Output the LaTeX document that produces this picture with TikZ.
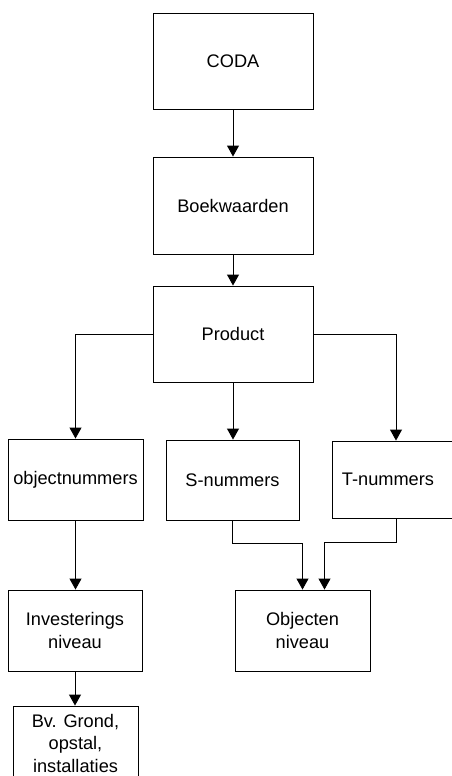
\documentclass[tikz,border=0pt]{standalone}
\usepackage{fontspec}
\setmainfont{Liberation Sans}
\usetikzlibrary{arrows.meta}
\begin{document}
\begin{tikzpicture}[x=1pt,y=-1pt,
  box/.style={draw, line width=0.9pt, rectangle, inner sep=0pt, align=center,
    font=\fontsize{18.2}{22.5}\selectfont},
  link/.style={line width=0.9pt, -{Triangle[length=11pt,width=12pt]}}]
  \useasboundingbox (0,0) rectangle (452,776);
  \clip (0,0) rectangle (452,776);

  % main chain
  \node[box, minimum width=160pt, minimum height=96pt] (coda) at (233,61) {CODA};
  \node[box, minimum width=160pt, minimum height=97pt] (boek) at (233,205.5) {Boekwaarden};
  \node[box, minimum width=160pt, minimum height=96pt] (prod) at (233,334) {Product};

  % number groups
  \node[box, minimum width=135pt, minimum height=81pt] (objnum) at (75.5,479.5) {objectnummers};
  \node[box, minimum width=133pt, minimum height=80pt] (snum) at (232.5,480) {S-nummers};
  \node[box, minimum width=128pt, minimum height=77pt] (tnum) at (396,479.5) {\hspace*{-16pt}T-nummers};

  % levels
  \node[box, minimum width=134pt, minimum height=81pt] (inv) at (75,630.5) {Investerings\\niveau};
  \node[box, minimum width=135pt, minimum height=81pt] (objn) at (302.5,630.5) {Objecten\\niveau};
  \node[box, minimum width=125pt, minimum height=74pt] (bv) at (75.5,743) {Bv. Grond,\\opstal,\\installaties};

  \coordinate (objnR) at ([xshift=22pt]objn.north);

  % connectors
  \draw[link] (coda.south) -- (boek.north);
  \draw[link] (boek.south) -- (prod.north);
  \draw[link] (prod.west) -| (objnum.north);
  \draw[link] (prod.south) -- (prod.south |- snum.north);
  \draw[link] (prod.east) -| (tnum.north);
  \draw[link] (objnum.south) -- (objnum.south |- inv.north);
  \draw[link] (inv.south) -- (inv.south |- bv.north);
  \draw[link] (snum.south) -- ++(0,23) -| (objn.north);
  \draw[link] (tnum.south) -- ++(0,24) -| (objnR);
\end{tikzpicture}
\end{document}
